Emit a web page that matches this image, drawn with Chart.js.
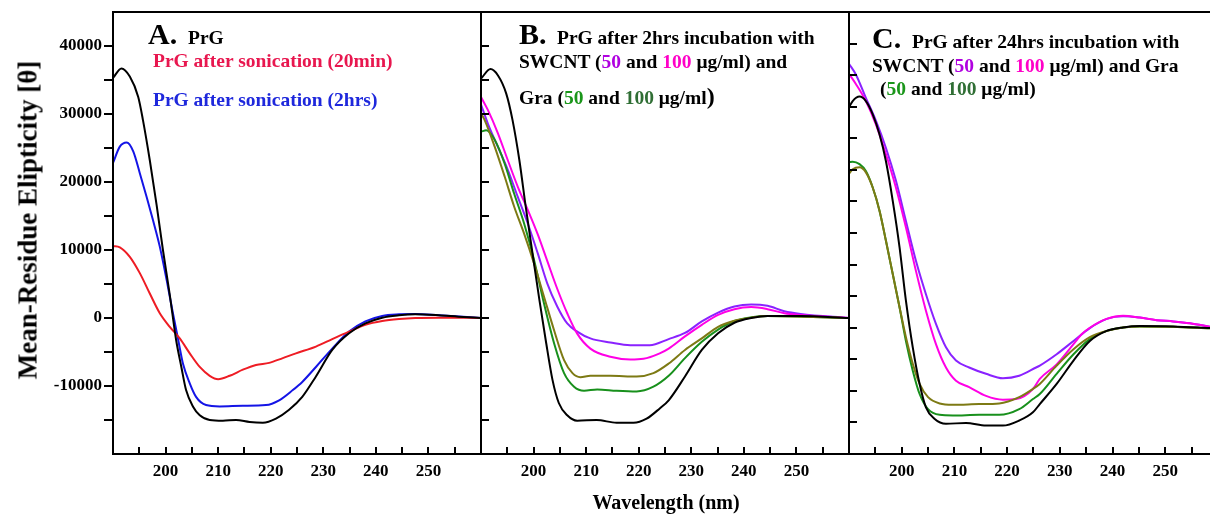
<!DOCTYPE html>
<html><head><meta charset="utf-8">
<script src="https://cdn.jsdelivr.net/npm/chart.js@4.4.1/dist/chart.umd.min.js"></script>
<style>
html,body{margin:0;padding:0;background:#fff;overflow:hidden}
#wrap{position:relative;width:1210px;height:515px;overflow:hidden;background:#fff;font-family:"Liberation Serif","Times New Roman",serif;font-weight:bold}
canvas{position:absolute;top:0}
.t{position:absolute;white-space:nowrap;line-height:1;color:#000;font-weight:bold}
</style></head>
<body><div id="wrap">
<canvas id="cA" style="left:0px;width:482px;height:515px" width="482" height="515"></canvas>
<canvas id="cB" style="left:471px;width:379px;height:515px" width="379" height="515"></canvas>
<canvas id="cC" style="left:839px;width:371px;height:515px" width="371" height="515"></canvas>

<div class="t" style="left:28px;top:220px;font-size:27px;transform:translate(-50%,-50%) rotate(-90deg)">Mean-Residue Elipticity [&theta;]</div>
<div class="t" style="left:666px;top:502px;font-size:20px;transform:translate(-50%,-50%)">Wavelength (nm)</div>

<div class="t" style="left:148px;top:19px;font-size:30px">A.</div>
<div class="t" style="left:188px;top:28px;font-size:19.5px">PrG</div>
<div class="t" style="left:153px;top:51px;font-size:19.5px;color:#e8174f">PrG after sonication (20min)</div>
<div class="t" style="left:153px;top:90px;font-size:19.5px;color:#1e28dc">PrG after sonication (2hrs)</div>

<div class="t" style="left:519px;top:19px;font-size:30px">B.</div>
<div class="t" style="left:557px;top:28px;font-size:19.5px">PrG after 2hrs incubation with</div>
<div class="t" style="left:519px;top:52px;font-size:19.5px">SWCNT (<span style="color:#b000e0">50</span> and <span style="color:#ff00c8">100</span> &mu;g/ml) and</div>
<div class="t" style="left:519px;top:84px;font-size:19.5px">Gra (<span style="color:#1a961a">50</span> and <span style="color:#2f6e34">100</span> &mu;g/ml<span style="font-size:24px">)</span></div>

<div class="t" style="left:872px;top:23px;font-size:30px">C.</div>
<div class="t" style="left:912px;top:32px;font-size:19.5px">PrG after 24hrs incubation with</div>
<div class="t" style="left:872px;top:56px;font-size:19.5px">SWCNT (<span style="color:#b000e0">50</span> and <span style="color:#ff00c8">100</span> &mu;g/ml) and Gra</div>
<div class="t" style="left:880px;top:79px;font-size:19.5px">(<span style="color:#1a961a">50</span> and <span style="color:#2f6e34">100</span> &mu;g/ml)</div>
</div>
<script>
// ---------- tick labels ----------
const xTickLabels = [200, 210, 220, 230, 240, 250];
const yTickLabels = [40000, 30000, 20000, 10000, 0, -10000];

// ---------- Panel A : PrG and sonication ----------
const wlA_native = [190,191.6,193.2,194.8,195.7,197,198.3,199.5,200.8,202,203,203.9,205.2,206.5,208.4,210.9,213.4,216,218.5,221,223.5,226,228.6,231.7,234.9,238,241.2,244.4,247.5,252,255.7,260];
const A_native   = [35300,36700,35500,32500,29100,23200,16600,10000,3400,-3200,-7200,-10600,-13000,-14300,-15000,-15100,-15000,-15300,-15400,-14800,-13500,-11600,-8600,-4700,-2250,-800,50,400,540,400,200,0];
const wlA_son2h  = [190,191.3,192.6,193.85,195.1,196.4,197.6,198.9,200.2,201.4,202.4,203.3,204.6,205.8,207.7,210.3,214.7,219.1,221.6,224.2,226,228.6,231.7,234.9,238,241.2,244.4,247.5,252,260];
const A_son2h    = [22800,25200,25800,24500,21300,17800,14400,10500,5600,700,-3200,-6700,-9600,-11600,-12800,-13000,-12900,-12800,-12100,-10600,-9400,-7200,-4500,-2000,-500,300,540,600,400,0];
const wlA_son20  = [190,191.3,193.2,195.1,197,198.9,200.8,202.7,204.6,206.5,208.4,210,212.2,214.7,217.2,219.7,222.3,224.8,228.6,231.7,234.9,238,241.2,244.4,247.5,252,260];
const A_son20    = [10600,10400,9000,6600,3600,700,-1300,-3000,-5200,-7200,-8500,-9000,-8500,-7600,-6900,-6600,-5900,-5200,-4200,-3100,-2000,-1000,-440,-150,0,50,0];

// ---------- Panel B : 2 hrs incubation ----------
const wlB_native = [190,191.8,193.2,194.8,196,197.3,198.5,199.8,201.1,202.3,203.6,204.8,206.4,208.3,212,215.8,219,221.5,224,225.7,228.8,232,235.1,238.2,241.4,244.5,250.8,260];
const B_native   = [35200,36600,35700,33000,29100,23200,16400,9500,2700,-3200,-9100,-12500,-14300,-15100,-15000,-15400,-15400,-14800,-13300,-12100,-8600,-4700,-2250,-700,0,300,300,0];
const wlB_gra50  = [190,190.7,192.6,194.5,196.3,198.2,200.1,202,203.9,205.8,207.4,208.9,210.8,214.6,219.6,222.8,225.7,228.8,232,235.1,238.2,241.4,244.5,260];
const B_gra50    = [30100,29100,25200,20800,16400,12400,8000,3100,-1800,-6200,-8100,-8700,-8500,-8500,-8600,-8100,-6700,-4700,-3000,-1300,-400,50,300,0];
const wlB_gra100 = [190,191,192.6,194.5,196.3,198.2,200.1,202,203.9,205.8,207.7,209.6,212.1,215.8,219.6,222.8,225.7,228.8,232,235.1,238.2,241.4,244.5,260];
const B_gra100   = [27400,27600,26200,22700,18300,13900,8500,2100,-3700,-8100,-10100,-10700,-10500,-10700,-10800,-10100,-8500,-5900,-3500,-1700,-450,100,300,0];
const wlB_sw100  = [190,191.3,193.2,195.1,197,198.9,200.8,202.6,204.5,206.4,208.3,210.8,214.6,218.4,220.9,224,225.7,228.8,232,235.1,238.2,241.4,244.5,247.7,250.8,260];
const B_sw100    = [32500,30600,27200,23200,19300,15900,12300,8400,4300,700,-2300,-4500,-5700,-6100,-6000,-5200,-4500,-2700,-1000,450,1300,1600,1300,700,450,0];
const wlB_sw50   = [190,191.3,193.2,195.1,197,198.9,200.8,202.6,204.5,206.4,208.3,210.8,214.6,218.4,222.1,225.7,228.8,232,235.1,238.2,241.4,244.5,247.7,250.8,260];
const B_sw50     = [31400,28600,25200,21800,17800,13900,9500,5100,1700,-800,-2000,-3000,-3600,-4000,-4000,-3100,-2200,-500,800,1700,2000,1800,1000,600,0];

// ---------- Panel C : 24 hrs incubation ----------
const wlC_native = [190,190.7,192,193.2,194.5,195.8,197,198.3,199.6,200.8,202.1,203.4,204.6,206.2,208.4,212.2,216,219.2,222.3,224.9,226.2,229.4,232.6,235.7,238.9,242,245.2,251.5,258.5];
const C_native   = [34900,35900,36600,35900,33800,30600,26400,20100,12700,4300,-3100,-8900,-12600,-14400,-15200,-15100,-15500,-15500,-14700,-13400,-12100,-8900,-5200,-2100,-500,50,260,200,-60];
const wlC_gra    = [190,190.7,192,193.2,194.5,195.8,197,198.3,199.6,200.8,202.1,203.4,205,207.2,209.7,214.7,218.5,222.3,224.9,226.2,229.4,232.6,235.7,238.9,242,245.2,251.5,258.5];
const C_gra50    = [24400,25100,25400,24600,22200,18500,13800,8500,3200,-1500,-5700,-8900,-11000,-12000,-12200,-12100,-12000,-11000,-9700,-8900,-6000,-3400,-1500,-500,50,200,150,-100];
const C_gra100   = [26200,26300,25900,24800,22200,18500,13800,8500,3200,-2100,-6800,-10500,-12900,-13800,-13900,-13800,-13800,-12900,-11300,-10500,-7300,-4200,-1800,-500,50,200,150,-100];
const wlC_sw50   = [190,191.3,193.2,195.1,197,198.9,200.8,202.7,204.6,206.5,208.4,210.3,212.8,216,219.2,222.3,225.5,226.2,229.4,232.6,235.7,238.9,242,245.2,248.4,251.5,254.7,258.5];
const C_sw50     = [41800,40100,36400,32800,28500,23300,16900,10600,5300,600,-3100,-5200,-6300,-7300,-8000,-7600,-6300,-6000,-4200,-2100,-60,1400,1800,1600,1200,1000,700,150];
const wlC_sw100  = [190,191.3,193.2,195.1,197,198.9,200.8,202.7,204.6,206.5,208.4,210.3,212.8,216,219.2,221.7,224.9,226.2,229.4,232.6,234.2,235.7,238.9,242,245.2,248.4,251.5,254.7,258.5];
const C_sw100    = [40200,38600,35900,32200,27500,22200,15900,9000,2700,-2600,-6300,-8400,-9400,-10800,-11400,-11300,-9700,-8100,-5800,-2600,-1000,0,1400,1900,1600,1200,1000,700,150];

// ---------- colours ----------
const COL = {black:'#000000', red:'#ee1c24', blue:'#1414e6', olive:'#7d7a14', green:'#18901c', magenta:'#ff00e6', violet:'#8a22ff'};

Chart.defaults.font.family = '"Liberation Serif","Times New Roman",serif';
Chart.defaults.font.weight = 'bold';
Chart.defaults.color = '#000';

function ds(label, xs, ys, color) {
  return {label, data: xs.map((x, i) => ({x, y: ys[i]})), borderColor: color, backgroundColor: color,
          borderWidth: 2, pointRadius: 0, cubicInterpolationMode: 'monotone', fill: false};
}

const framePlugin = {
  id: 'frame',
  afterDatasetsDraw(chart, args, o) {
    const {ctx, chartArea: a, scales: {x, y}} = chart;
    ctx.save();
    ctx.strokeStyle = '#000';
    ctx.lineWidth = 2;
    ctx.beginPath();
    ctx.moveTo(a.left - 1, a.top); ctx.lineTo(a.right + 1, a.top);
    ctx.moveTo(a.left, a.top); ctx.lineTo(a.left, a.bottom);
    ctx.moveTo(a.left - 1, a.bottom); ctx.lineTo(a.right + 1, a.bottom);
    if (o.rightBorder) { ctx.moveTo(a.right, a.top); ctx.lineTo(a.right, a.bottom); }
    for (let v = y.min + 5000; v < y.max; v += 5000) {
      const py = Math.round(y.getPixelForValue(v));
      if (o.outward) { ctx.moveTo(a.left - 9, py); ctx.lineTo(a.left, py); }
      else { ctx.moveTo(a.left, py); ctx.lineTo(a.left + 8, py); }
    }
    for (let v = 195; v < x.max; v += 5) {
      const px = Math.round(x.getPixelForValue(v));
      ctx.moveTo(px, a.bottom); ctx.lineTo(px, a.bottom - 7);
    }
    ctx.stroke();
    ctx.restore();
  }
};

function makePanel(id, datasets, yMax, xMax, pad, showY, frameOpts) {
  return new Chart(document.getElementById(id), {
    type: 'line',
    data: {datasets},
    plugins: [framePlugin],
    options: {
      responsive: false, animation: false, events: [],
      layout: {padding: pad},
      plugins: {legend: {display: false}, tooltip: {enabled: false}, frame: frameOpts},
      scales: {
        x: {type: 'linear', min: 190, max: xMax,
            grid: {display: false, drawTicks: false}, border: {display: false},
            ticks: {stepSize: 5, autoSkip: false, maxRotation: 0, padding: 7,
                    font: {size: 17, weight: 'bold'}, color: '#000',
                    callback: v => xTickLabels.includes(v) ? String(v) : ''},
            afterFit: s => { s.height = 61; s.paddingLeft = 0; s.paddingRight = 0; s.paddingTop = 0; s.paddingBottom = 0; }},
        y: {type: 'linear', min: -20000, max: yMax, display: showY,
            grid: {display: false, drawTicks: false}, border: {display: false},
            ticks: {stepSize: 5000, autoSkip: false, padding: 11,
                    font: {size: 17, weight: 'bold'}, color: '#000',
                    callback: v => yTickLabels.includes(v) ? String(v) : ''},
            afterFit: s => { s.width = showY ? 113 : 0; s.paddingLeft = 0; s.paddingRight = 0; s.paddingTop = 0; s.paddingBottom = 0; }}
      }
    }
  });
}

makePanel('cA', [
  ds('PrG', wlA_native, A_native, COL.black),
  ds('PrG after sonication (20min)', wlA_son20, A_son20, COL.red),
  ds('PrG after sonication (2hrs)', wlA_son2h, A_son2h, COL.blue)
], 45000, 260, {top: 12, right: 1, left: 0, bottom: 0}, true, {outward: true, rightBorder: true});

makePanel('cB', [
  ds('PrG', wlB_native, B_native, COL.black),
  ds('Gra 50', wlB_gra50, B_gra50, COL.olive),
  ds('Gra 100', wlB_gra100, B_gra100, COL.green),
  ds('SWCNT 100', wlB_sw100, B_sw100, COL.magenta),
  ds('SWCNT 50', wlB_sw50, B_sw50, COL.violet)
], 45000, 260, {top: 12, right: 1, left: 10, bottom: 0}, false, {outward: false, rightBorder: true});

makePanel('cC', [
  ds('PrG', wlC_native, C_native, COL.black),
  ds('Gra 50', wlC_gra, C_gra50, COL.olive),
  ds('Gra 100', wlC_gra, C_gra100, COL.green),
  ds('SWCNT 100', wlC_sw100, C_sw100, COL.magenta),
  ds('SWCNT 50', wlC_sw50, C_sw50, COL.violet)
], 50000, 258.5, {top: 12, right: 0, left: 10, bottom: 0}, false, {outward: false, rightBorder: false});
</script>
</body></html>
